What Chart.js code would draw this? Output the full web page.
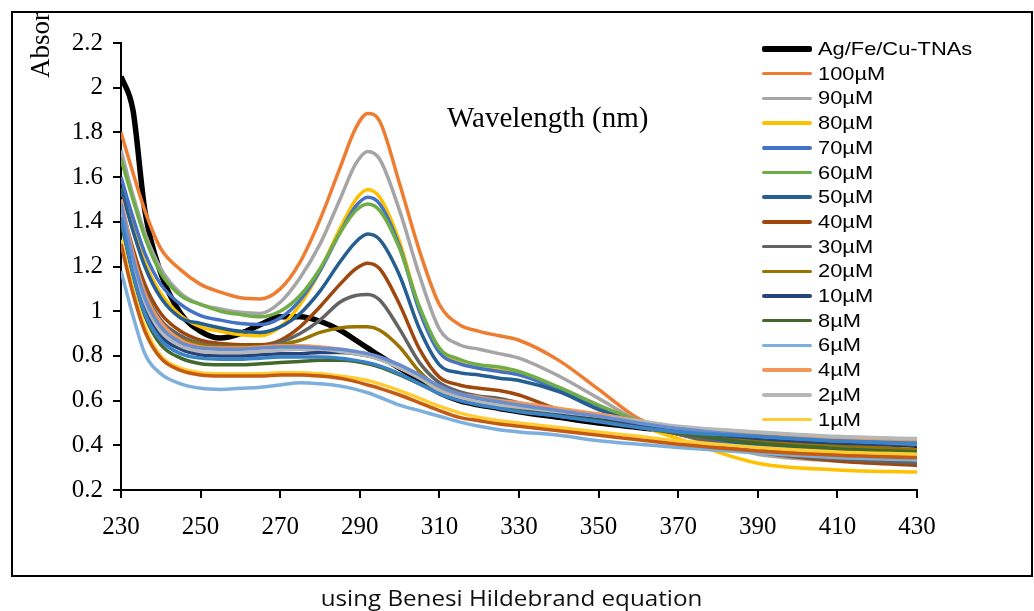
<!DOCTYPE html>
<html>
<head>
<meta charset="utf-8">
<script src="https://cdn.jsdelivr.net/npm/chart.js@4.4.1/dist/chart.umd.min.js"></script>
<style>
  html, body { margin: 0; padding: 0; background: #fff; }
  #wrap { position: relative; width: 1034px; height: 611px; overflow: hidden; }
  #chart { position: absolute; left: 0; top: 0; }
  #frame { position: absolute; left: 11px; top: 11px; width: 1018px; height: 562px; border: 2px solid #000; pointer-events: none; }
  #legend { position: absolute; left: 0; top: 0; }
  .row { position: absolute; left: 762px; height: 24px; }
  .swatch { position: absolute; left: 0; width: 50px; border-radius: 2px; }
  .label { position: absolute; left: 56px; top: 0; line-height: 24px; font-family: "Liberation Sans", Arial, sans-serif; font-size: 19px; color: #000; white-space: nowrap; transform: scaleX(1.15); transform-origin: left center; }
  #caption { position: absolute; left: 0; width: 1022px; top: 582px; text-align: center; font-family: "Open Sans", sans-serif; font-size: 22px; color: #111; }
  #caption span { display: inline-block; transform: scaleX(1.1); }
</style>
</head>
<body>
<div id="wrap">
  <canvas id="chart" width="1034" height="611"></canvas>
  <div id="frame"></div>
  <div id="legend"></div>
  <div id="caption"><span>using Benesi Hildebrand equation</span></div>
</div>
<script>
// wavelength grid (nm)
const wavelengths = [230, 233, 236, 240, 245, 250, 255, 260, 265, 270, 275, 280, 285, 289, 292, 295, 300, 305, 310, 315, 320, 325, 330, 340, 350, 360, 370, 390, 410, 430];

const xTickValues = [230, 250, 270, 290, 310, 330, 350, 370, 390, 410, 430];
const yTickValues = [0.2, 0.4, 0.6, 0.8, 1, 1.2, 1.4, 1.6, 1.8, 2, 2.2];

const seriesLabels = ['Ag/Fe/Cu-TNAs', '100µM', '90µM', '80µM', '70µM', '60µM', '50µM', '40µM', '30µM', '20µM', '10µM', '8µM', '6µM', '4µM', '2µM', '1µM'];
const seriesColors = ['#000000', '#ED7D31', '#A5A5A5', '#FFC000', '#4472C4', '#70AD47', '#255E91', '#9E480E', '#636363', '#997300', '#264478', '#43682B', '#7CAFDD', '#F1975A', '#B7B7B7', '#FFCD33'];

const absBare = [2.05, 1.90, 1.45, 1.17, 0.99, 0.91, 0.88, 0.90, 0.94, 0.975, 0.975, 0.955, 0.915, 0.87, 0.835, 0.80, 0.745, 0.69, 0.635, 0.60, 0.58, 0.565, 0.55, 0.525, 0.50, 0.48, 0.46, 0.44, 0.42, 0.40];
const abs100 = [1.80, 1.62, 1.45, 1.28, 1.185, 1.12, 1.085, 1.06, 1.055, 1.10, 1.22, 1.41, 1.64, 1.82, 1.885, 1.85, 1.57, 1.27, 1.03, 0.94, 0.91, 0.89, 0.87, 0.78, 0.65, 0.52, 0.46, 0.39, 0.36, 0.345];
const abs90 = [1.72, 1.52, 1.35, 1.19, 1.08, 1.03, 1.01, 0.995, 0.99, 1.04, 1.15, 1.30, 1.50, 1.66, 1.715, 1.68, 1.45, 1.16, 0.92, 0.85, 0.83, 0.81, 0.79, 0.71, 0.61, 0.51, 0.45, 0.36, 0.33, 0.32];
const abs80 = [1.55, 1.38, 1.22, 1.08, 0.98, 0.93, 0.91, 0.895, 0.89, 0.93, 1.03, 1.18, 1.37, 1.50, 1.545, 1.51, 1.31, 1.01, 0.82, 0.77, 0.745, 0.735, 0.72, 0.65, 0.57, 0.49, 0.43, 0.32, 0.29, 0.28];
const abs70 = [1.60, 1.42, 1.26, 1.12, 1.03, 0.98, 0.96, 0.945, 0.94, 0.97, 1.05, 1.18, 1.35, 1.47, 1.51, 1.48, 1.29, 1.00, 0.815, 0.765, 0.745, 0.73, 0.715, 0.65, 0.575, 0.50, 0.45, 0.40, 0.38, 0.37];
const abs60 = [1.68, 1.50, 1.33, 1.17, 1.07, 1.03, 1.00, 0.985, 0.975, 1.00, 1.07, 1.19, 1.35, 1.45, 1.48, 1.45, 1.28, 1.02, 0.835, 0.785, 0.76, 0.75, 0.73, 0.66, 0.58, 0.51, 0.46, 0.41, 0.39, 0.38];
const abs50 = [1.55, 1.36, 1.20, 1.06, 0.97, 0.945, 0.925, 0.91, 0.905, 0.93, 0.99, 1.09, 1.22, 1.31, 1.345, 1.32, 1.16, 0.92, 0.76, 0.725, 0.715, 0.70, 0.69, 0.64, 0.56, 0.50, 0.46, 0.40, 0.38, 0.37];
const abs40 = [1.48, 1.28, 1.12, 0.99, 0.91, 0.87, 0.855, 0.85, 0.85, 0.87, 0.93, 1.02, 1.12, 1.19, 1.215, 1.19, 1.03, 0.83, 0.705, 0.67, 0.655, 0.645, 0.625, 0.56, 0.53, 0.49, 0.45, 0.37, 0.33, 0.31];
const abs30 = [1.45, 1.25, 1.09, 0.96, 0.89, 0.855, 0.845, 0.84, 0.84, 0.86, 0.90, 0.96, 1.04, 1.07, 1.075, 1.05, 0.92, 0.77, 0.68, 0.64, 0.62, 0.61, 0.59, 0.55, 0.525, 0.49, 0.45, 0.37, 0.34, 0.32];
const abs20 = [1.42, 1.22, 1.06, 0.94, 0.875, 0.85, 0.84, 0.84, 0.84, 0.85, 0.87, 0.905, 0.925, 0.93, 0.93, 0.915, 0.84, 0.73, 0.655, 0.62, 0.60, 0.59, 0.575, 0.54, 0.515, 0.49, 0.465, 0.42, 0.40, 0.38];
const abs10 = [1.45, 1.20, 1.02, 0.89, 0.83, 0.805, 0.80, 0.80, 0.805, 0.81, 0.81, 0.815, 0.815, 0.81, 0.80, 0.785, 0.75, 0.705, 0.66, 0.625, 0.60, 0.585, 0.57, 0.545, 0.52, 0.49, 0.465, 0.43, 0.41, 0.40];
const abs8 = [1.40, 1.16, 0.98, 0.85, 0.79, 0.765, 0.76, 0.76, 0.765, 0.77, 0.775, 0.78, 0.78, 0.775, 0.765, 0.75, 0.715, 0.675, 0.635, 0.605, 0.585, 0.57, 0.555, 0.53, 0.51, 0.48, 0.455, 0.41, 0.385, 0.37];
const abs6 = [1.18, 0.98, 0.81, 0.72, 0.675, 0.655, 0.65, 0.655, 0.66, 0.67, 0.68, 0.675, 0.665, 0.65, 0.635, 0.615, 0.58, 0.555, 0.53, 0.505, 0.485, 0.47, 0.46, 0.445, 0.42, 0.405, 0.39, 0.365, 0.345, 0.335];
const abs4 = [1.50, 1.26, 1.08, 0.95, 0.87, 0.84, 0.835, 0.835, 0.84, 0.845, 0.845, 0.84, 0.83, 0.815, 0.805, 0.79, 0.755, 0.71, 0.66, 0.63, 0.615, 0.60, 0.59, 0.565, 0.54, 0.51, 0.48, 0.45, 0.43, 0.42];
const abs2 = [1.46, 1.22, 1.04, 0.91, 0.845, 0.82, 0.815, 0.815, 0.82, 0.825, 0.83, 0.83, 0.82, 0.81, 0.80, 0.785, 0.745, 0.70, 0.645, 0.615, 0.595, 0.58, 0.57, 0.55, 0.53, 0.51, 0.485, 0.46, 0.44, 0.43];
const abs1 = [1.32, 1.10, 0.93, 0.80, 0.745, 0.725, 0.72, 0.72, 0.72, 0.725, 0.725, 0.72, 0.71, 0.70, 0.69, 0.675, 0.645, 0.61, 0.575, 0.545, 0.525, 0.51, 0.50, 0.48, 0.46, 0.44, 0.42, 0.39, 0.37, 0.36];

// extra curves drawn in the plot but not listed in its legend
const extraColors = ['#698ED0', '#3A83C6', '#C55A11'];
const absExtraA = [1.48, 1.24, 1.06, 0.93, 0.86, 0.835, 0.83, 0.83, 0.835, 0.84, 0.84, 0.835, 0.83, 0.82, 0.81, 0.795, 0.76, 0.715, 0.665, 0.63, 0.61, 0.595, 0.58, 0.555, 0.53, 0.50, 0.475, 0.44, 0.42, 0.405];
const absExtraB = [1.42, 1.17, 0.99, 0.87, 0.81, 0.79, 0.785, 0.785, 0.79, 0.795, 0.795, 0.795, 0.79, 0.78, 0.77, 0.755, 0.72, 0.675, 0.63, 0.60, 0.58, 0.565, 0.55, 0.53, 0.505, 0.48, 0.46, 0.44, 0.42, 0.41];
const absExtraC = [1.30, 1.08, 0.91, 0.79, 0.735, 0.715, 0.71, 0.71, 0.71, 0.715, 0.715, 0.71, 0.70, 0.685, 0.67, 0.655, 0.625, 0.59, 0.555, 0.525, 0.51, 0.495, 0.485, 0.465, 0.445, 0.425, 0.405, 0.375, 0.355, 0.345];

const seriesValues = [absBare, abs100, abs90, abs80, abs70, abs60, abs50, abs40, abs30, abs20, abs10, abs8, abs6, abs4, abs2, abs1];
const extraValues = [absExtraA, absExtraB, absExtraC];

function toPoints(vals) {
    return vals.map((v, i) => ({ x: wavelengths[i], y: v }));
}

const allValues = seriesValues.concat(extraValues);
const allColors = seriesColors.concat(extraColors);
const total = allValues.length;

const datasets = allValues.map((vals, i) => ({
    label: i < seriesLabels.length ? seriesLabels[i] : 'extra ' + i,
    data: toPoints(vals),
    borderColor: allColors[i],
    borderWidth: i === 0 ? 5.5 : 3.5,
    pointRadius: 0,
    fill: false,
    cubicInterpolationMode: 'monotone',
    order: total - i
}));

// extra text: misplaced axis title and the clipped y title
const textPlugin = {
    id: 'textPlugin',
    afterDraw(chart) {
        const ctx = chart.ctx;
        ctx.save();
        ctx.fillStyle = '#000';
        ctx.font = '29px "Liberation Serif", "Times New Roman", serif';
        ctx.textAlign = 'left';
        ctx.textBaseline = 'alphabetic';
        ctx.fillText('Wavelength (nm)', 447, 127);
        ctx.restore();

        ctx.save();
        ctx.beginPath();
        ctx.rect(0, 13, 110, 120);
        ctx.clip();
        ctx.translate(49, 78);
        ctx.rotate(-Math.PI / 2);
        ctx.fillStyle = '#000';
        ctx.font = '27px "Liberation Serif", "Times New Roman", serif';
        ctx.textAlign = 'left';
        ctx.textBaseline = 'alphabetic';
        ctx.fillText('Absorbance', 0, 0);
        ctx.restore();
    }
};

const ctx = document.getElementById('chart').getContext('2d');
new Chart(ctx, {
    type: 'line',
    data: { datasets: datasets },
    options: {
        responsive: false,
        animation: false,
        devicePixelRatio: 1,
        layout: { padding: { top: 43, right: 117, left: 0, bottom: 0 } },
        plugins: {
            legend: { display: false },
            tooltip: { enabled: false }
        },
        scales: {
            x: {
                type: 'linear',
                min: 230,
                max: 430,
                afterBuildTicks: (scale) => { scale.ticks = xTickValues.map(v => ({ value: v })); },
                afterFit: (scale) => { scale.height = 121; },
                border: { color: '#000', width: 2 },
                grid: { drawOnChartArea: false, drawTicks: true, tickLength: 8, color: '#000', lineWidth: 2 },
                ticks: {
                    color: '#000',
                    font: { family: '"Liberation Serif", "Times New Roman", serif', size: 25 },
                    padding: 14,
                    maxRotation: 0,
                    autoSkip: false,
                    callback: (v) => String(v)
                }
            },
            y: {
                type: 'linear',
                min: 0.2,
                max: 2.2,
                afterBuildTicks: (scale) => { scale.ticks = yTickValues.map(v => ({ value: v })); },
                afterFit: (scale) => { scale.width = 121; },
                border: { color: '#000', width: 2 },
                grid: { drawOnChartArea: false, drawTicks: true, tickLength: 8, color: '#000', lineWidth: 2 },
                ticks: {
                    color: '#000',
                    font: { family: '"Liberation Serif", "Times New Roman", serif', size: 25 },
                    padding: 10,
                    autoSkip: false,
                    callback: (v) => String(Number(v.toFixed(1)))
                }
            }
        }
    },
    plugins: [textPlugin]
});

// legend overlay, laid over the plot like the original
const legend = document.getElementById('legend');
seriesLabels.forEach((label, i) => {
    const row = document.createElement('div');
    row.className = 'row';
    row.style.top = (49 + i * 24.7 - 12) + 'px';
    const sw = document.createElement('div');
    sw.className = 'swatch';
    const h = i === 0 ? 5.5 : 3.5;
    sw.style.height = h + 'px';
    sw.style.top = (12 - h / 2) + 'px';
    sw.style.background = seriesColors[i];
    const txt = document.createElement('div');
    txt.className = 'label';
    txt.textContent = label;
    row.appendChild(sw);
    row.appendChild(txt);
    legend.appendChild(row);
});
</script>
</body>
</html>
